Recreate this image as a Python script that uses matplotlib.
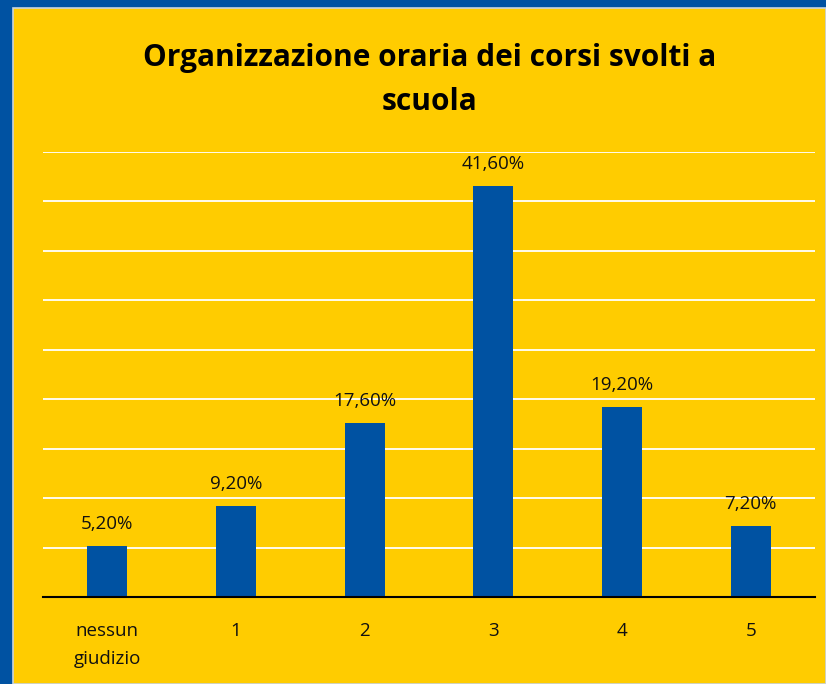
import matplotlib.pyplot as plt
import matplotlib.patches as mpatches

categories = ["nessun\ngiudizio", "1", "2", "3", "4", "5"]
values = [5.2, 9.2, 17.6, 41.6, 19.2, 7.2]
labels = ["5,20%", "9,20%", "17,60%", "41,60%", "19,20%", "7,20%"]

YELLOW = "#FFCC00"
BLUE = "#0052A2"

plt.rcParams['font.family'] = ['Open Sans', 'DejaVu Sans']
fig = plt.figure(figsize=(8.26, 6.84), dpi=100)
fig.patch.set_facecolor(BLUE)
W, H = 826, 684
bg = mpatches.Rectangle((13 / W, 0), 1 - 13 / W, 1 - 8 / H, transform=fig.transFigure,
                        facecolor=YELLOW, edgecolor="#C8D4E0", linewidth=1.2, zorder=-10)
fig.add_artist(bg)

ax = fig.add_axes([43 / W, 1 - 597 / H, (815 - 43) / W, (597 - 152) / H])
ax.set_zorder(1)
ax.patch.set_alpha(0)
x = range(len(categories))
ax.bar(x, values, width=0.31, color=BLUE, zorder=3)
for xi, v, lab in zip(x, values, labels):
    ax.text(xi, v + 1.3, lab, ha="center", va="bottom", fontsize=13.5, color="#111111")
ax.set_xlim(-0.5, len(categories) - 0.5)
ax.set_ylim(0, 45)
ax.set_yticks(range(0, 46, 5))
ax.yaxis.grid(True, color="white", linewidth=1.3, zorder=0)
ax.tick_params(axis="y", left=False, labelleft=False)
ax.tick_params(axis="x", length=0, pad=18, labelsize=13.5, labelcolor="#111111")
ax.set_xticks(list(x))
ax.set_xticklabels(categories, linespacing=1.7)
for s in ["top", "right", "left"]:
    ax.spines[s].set_visible(False)
ax.spines["bottom"].set_color("black")
ax.spines["bottom"].set_linewidth(1.5)
ax.spines["bottom"].set_zorder(4)

fig.text(0.52, 1 - 80 / H, "Organizzazione oraria dei corsi svolti a\nscuola", ha="center", va="center",
         fontsize=21.5, fontweight="bold", color="black", linespacing=1.6)

fig.savefig("out.png", dpi=100, facecolor=fig.get_facecolor())
